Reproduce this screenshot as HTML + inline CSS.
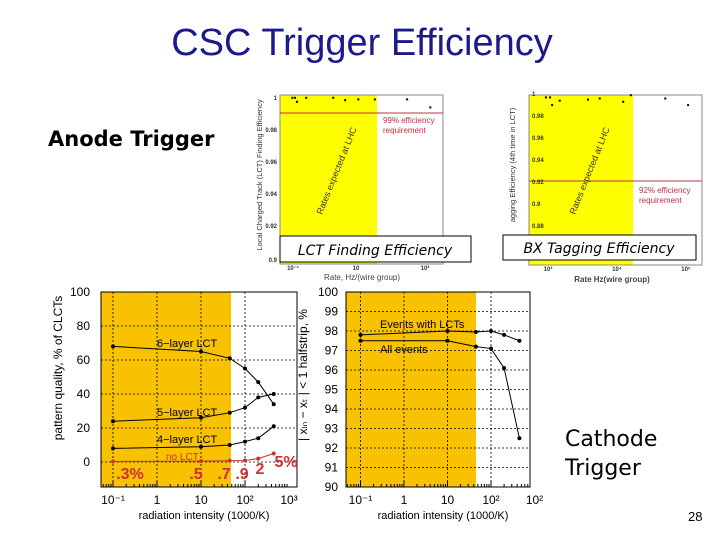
<!DOCTYPE html>
<html><head><meta charset="utf-8"><style>
body{margin:0;width:720px;height:540px;background:#fff;overflow:hidden}
svg{display:block;font-family:"Liberation Sans",sans-serif}
</style></head><body>
<svg id="s" width="720" height="540" viewBox="0 0 720 540">
<text x="362" y="55" font-size="38" text-anchor="middle" fill="#1a1a8c">CSC Trigger Efficiency</text>
<text x="48" y="146" font-size="21" font-weight="bold" font-family="DejaVu Sans,sans-serif" fill="#000">Anode Trigger</text>
<text x="565" y="446" font-size="22" font-family="DejaVu Sans,sans-serif" fill="#000"><tspan x="565">Cathode</tspan><tspan x="565" dy="29">Trigger</tspan></text>
<text x="688" y="521" font-size="13" fill="#000">28</text>
<g id="g"></g>
</svg>
<script>
// Top-left: LCT finding efficiency
const lctLogRate=[0.02,0.06,0.09,0.23,0.64,0.82,1.02,1.27,1.76,2.11];
const lctEff=[0.9995,0.9995,0.997,0.9995,0.9995,0.998,0.9985,0.9985,0.9985,0.9935];
// Top-right: BX tagging
const bxLogRate=[2.97,3.03,3.06,3.17,3.58,3.75,4.09,4.20,4.70,5.03];
const bxEff=[0.996,0.996,0.989,0.993,0.994,0.995,0.992,0.998,0.995,0.989];
// Bottom: radiation intensity
const radX=[0.1,10,45,100,200,450];
const six=[68,65,61,55,47,34];
const five=[24,26,29,32,38,40];
const four=[8,9,10,12,14,21];
const noLct=[0.3,0.5,0.7,0.9,2,5];
const evLct=[97.8,98,97.95,98,97.8,97.5];
const allEv=[97.5,97.5,97.2,97.1,96.1,92.5];
const pctLabels=['.3%','.5','.7','.9','2','5%'];

const NS='http://www.w3.org/2000/svg';const G=document.getElementById('g');
function el(t,a,p){const e=document.createElementNS(NS,t);for(const k in a)e.setAttribute(k,a[k]);(p||G).appendChild(e);return e;}
function txt(x,y,s,a){const e=el('text',Object.assign({x:x,y:y},a||{}));e.textContent=s;return e;}

// ---------- top-left ----------
{const x0=280,x1=443,y0=95,y1=264;
const X=l=>291+66*l, Y=v=>97+(1-v)*1600;
let r=el('rect',{x:x0,y:y0,width:377-x0,height:y1-y0,fill:'#ffff00'});
r=el('rect',{x:x0,y:y0,width:x1-x0,height:y1-y0,fill:'none',stroke:'#888','stroke-width':1});
r=el('line',{x1:x0,x2:x1,y1:Y(0.99),y2:Y(0.99),stroke:'#c03040','stroke-width':1});
let t=txt(383,123,'99% efficiency',{'font-size':8,fill:'#c03040'});
t=txt(383,133,'requirement',{'font-size':8,fill:'#c03040'});
t=txt(0,0,'Rates expected at LHC',{'font-size':9,fill:'#333',transform:'translate(322,215) rotate(-68)'});
[[1,'1'],[0.98,'0.98'],[0.96,'0.96'],[0.94,'0.94'],[0.92,'0.92'],[0.9,'0.9']].forEach((d,i)=>{const yy=i==5?259:Y(d[0]);t=txt(277,yy+3,d[1],{'font-size':6,'text-anchor':'end','font-weight':'bold',fill:'#333'});});
t=txt(0,0,'Local Charged Track (LCT) Finding Efficiency',{'font-size':7.5,fill:'#333','text-anchor':'middle',transform:'translate(262,175) rotate(-90)'});
['10⁻¹','10','10²'].forEach((s,i)=>{t=txt([293,356,425][i],270,s,{'font-size':6,'text-anchor':'middle','font-weight':'bold',fill:'#333'});});
t=txt(362,280,'Rate, Hz/(wire group)',{'font-size':8,'text-anchor':'middle',fill:'#444'});
lctLogRate.forEach((l,i)=>{const c=el('rect',{x:X(l)-1,y:Y(lctEff[i])-1,width:2,height:2,fill:'#000'});});
r=el('rect',{x:280,y:236,width:191,height:26,fill:'#fff',stroke:'#000'});
t=txt(375,255,'LCT Finding Efficiency',{'font-size':14,'font-style':'italic','text-anchor':'middle','font-family':'DejaVu Sans,sans-serif'});}

// ---------- top-right ----------
{const x0=529,x1=702,y0=95,y1=265;
const X=l=>548+69*(l-3), Y=v=>93+(1-v)*1100;
let r=el('rect',{x:x0,y:y0,width:633-x0,height:y1-y0,fill:'#ffff00'});
r=el('rect',{x:x0,y:y0,width:x1-x0,height:y1-y0,fill:'none',stroke:'#888'});
r=el('line',{x1:x0,x2:x1,y1:Y(0.92),y2:Y(0.92),stroke:'#c03040'});
let t=txt(639,193,'92% efficiency',{'font-size':8,fill:'#c03040'});
t=txt(639,203,'requirement',{'font-size':8,fill:'#c03040'});
t=txt(0,0,'Rates expected at LHC',{'font-size':9,fill:'#333',transform:'translate(575,215) rotate(-68)'});
[1,0.98,0.96,0.94,0.92,0.9,0.88].forEach(v=>{t=txt(532,Y(v)+3,String(v),{'font-size':6,'font-weight':'bold',fill:'#333'});});
t=txt(0,0,'agging Efficiency (4th time in LCT)',{'font-size':7.5,fill:'#333','text-anchor':'middle',transform:'translate(515,165) rotate(-90)'});
['10³','10⁴','10⁵'].forEach((s,i)=>{t=txt(X(3+i),271,s,{'font-size':6,'text-anchor':'middle','font-weight':'bold',fill:'#333'});});
t=txt(612,282,'Rate Hz(wire group)',{'font-size':8,'text-anchor':'middle','font-weight':'bold',fill:'#444'});
bxLogRate.forEach((l,i)=>{const c=el('rect',{x:X(l)-1,y:Y(bxEff[i])-1,width:2,height:2,fill:'#000'});});
r=el('rect',{x:503,y:235,width:193,height:25,fill:'#fff',stroke:'#000'});
t=txt(599,253,'BX  Tagging Efficiency',{'font-size':14,'font-style':'italic','text-anchor':'middle','font-family':'DejaVu Sans,sans-serif'});}

// ---------- bottom plots ----------
function lg(v){return Math.log10(v);}
function series(X,Y,xs,ys,col,nm){el('polyline',{points:xs.map((x,i)=>X(x)+','+Y(ys[i])).join(' '),fill:'none',stroke:col,'stroke-width':1});
xs.forEach((x,i)=>{const c=el('circle',{cx:X(x),cy:Y(ys[i]),r:2,fill:col});});}
function frame(x0,x1,y0,y1,bandEnd,X,Y,yt,nm,xl){
 let r=el('rect',{x:x0,y:y0,width:bandEnd-x0,height:y1-y0,fill:'#f8c200'});
 [-1,0,1,2].forEach(d=>{const l=el('line',{x1:X(10**d),x2:X(10**d),y1:y0,y2:y1,stroke:'#000','stroke-dasharray':'2,2','stroke-width':0.8});});
 yt.forEach(v=>{const l=el('line',{x1:x0,x2:x1,y1:Y(v),y2:Y(v),stroke:'#000','stroke-dasharray':'2,2','stroke-width':0.8});});
 for(let d=-2;d<3;d++)for(let k=1;k<10;k++){const v=k*10**d;if(X(v)<x0||X(v)>x1)continue;const h=k==1?6:3;el('line',{x1:X(v),x2:X(v),y1:y1,y2:y1-h,stroke:'#000'});}
 r=el('rect',{x:x0,y:y0,width:x1-x0,height:y1-y0,fill:'none',stroke:'#000'});
 [['10⁻¹',0.1],['1',1],['10',10],['10²',100],[xl,1000]].forEach(d=>{const t=txt(X(d[1]),y1+17,d[0],{'font-size':12,'text-anchor':'middle'});});
 const t=txt((x0+x1)/2+5,y1+32,'radiation intensity (1000/K)',{'font-size':11,'text-anchor':'middle'});
}
{const X=v=>157+44*lg(v), Y=v=>462-1.7*v;
frame(101,297,292,487,231,X,Y,[0,20,40,60,80],'quality','10³');
[0,20,40,60,80,100].forEach(v=>{const t=txt(90,Y(v)+4,String(v),{'font-size':12,'text-anchor':'end'});});
let t=txt(0,0,'pattern quality, % of CLCTs',{'font-size':12,'text-anchor':'middle',transform:'translate(62,368) rotate(-90)'});
series(X,Y,radX,six,'#000','six-layer');series(X,Y,radX,five,'#000','five-layer');series(X,Y,radX,four,'#000','four-layer');series(X,Y,radX,noLct,'#d03030','no-lct');
[['6−layer LCT',347],['5−layer LCT',416],['4−layer LCT',443]].forEach(d=>{t=txt(157,d[1],d[0],{'font-size':11});});
t=txt(166,460,'no LCT',{'font-size':10,fill:'#d03030'});
pctLabels.forEach((s,i)=>{const xx=[130,196,224,242,260,286][i],yy=[479,479,479,479,474,467][i];t=txt(xx,yy,s,{'font-size':16,'font-weight':'bold',fill:'#d03030','text-anchor':'middle'});});}
{const X=v=>404+43.5*lg(v), Y=v=>487-19.5*(v-90);
frame(346,530,292,487,476,X,Y,[91,92,93,94,95,96,97,98,99],'resolution','10²');
[90,91,92,93,94,95,96,97,98,99,100].forEach(v=>{const t=txt(338,Y(v)+4,String(v),{'font-size':12,'text-anchor':'end'});});
let t=txt(0,0,'| x\u2097\u2099 − x\u209C | < 1 halfstrip, %',{'font-size':12,'text-anchor':'middle',transform:'translate(307,375) rotate(-90)'});
series(X,Y,radX,evLct,'#000','events-with-lcts');series(X,Y,radX,allEv,'#000','all-events');
t=txt(380,328,'Events with LCTs',{'font-size':11});
t=txt(380,353,'All events',{'font-size':11});}
</script>
</body></html>
